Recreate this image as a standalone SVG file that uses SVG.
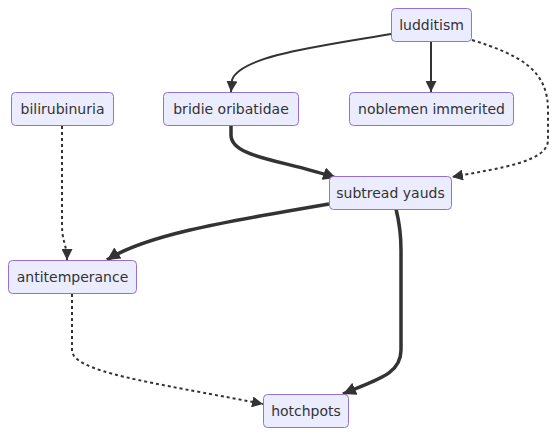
<svg xmlns="http://www.w3.org/2000/svg" width="557" height="436" viewBox="0 0 557 436">
<style>
.node rect{fill:#ECECFF;stroke:#9370DB;stroke-width:1}
.node text{font-family:"DejaVu Sans",Verdana,sans-serif;font-size:14px;fill:#333;text-anchor:middle}
.e{fill:none;stroke:#333}
.n{stroke-width:2}
.t{stroke-width:3.5}
.d{stroke-width:2;stroke-dasharray:3 3}
</style>
<defs>
<marker id="a" markerUnits="userSpaceOnUse" viewBox="0 0 10 10" refX="10" refY="5" markerWidth="11" markerHeight="11" orient="auto">
<path d="M0,0 L10,5 L0,10 z" fill="#333"/>
</marker>
<marker id="b" markerUnits="userSpaceOnUse" viewBox="0 0 10 10" refX="10" refY="5" markerWidth="13" markerHeight="13" orient="auto">
<path d="M0,0 L10,5 L0,10 z" fill="#333"/>
</marker>
</defs>
<rect width="557" height="436" fill="#fff"/>
<g id="edges">
<path class="e n" d="M391,34 C320,46 240,56 232,80 L231,92" marker-end="url(#a)"/>
<path class="e n" d="M431,42 L431,92" marker-end="url(#a)"/>
<path class="e d" d="M472,40 C520,55 548,70 548,110 L548,140 C548,162 500,168 452,177" marker-end="url(#a)"/>
<path class="e t" d="M231,125 L231,135 C231,158 285,160 336,178" marker-end="url(#b)"/>
<path class="e d" d="M62,126 L62,225 C62,242 67,245 67,260" marker-end="url(#a)"/>
<path class="e t" d="M329,204 C250,218 150,232 107,260" marker-end="url(#b)"/>
<path class="e t" d="M396,209 C400,225 401,235 401,250 L401,350 C401,375 375,380 343,394" marker-end="url(#b)"/>
<path class="e d" d="M72,294 L72,350 C72,372 150,382 263,404" marker-end="url(#a)"/>
</g>
<g id="ludditism" class="node"><rect x="391.5" y="8.5" width="80" height="33" rx="4"/><text x="431.5" y="30">ludditism</text></g>
<g id="bilirubinuria" class="node"><rect x="11.5" y="92.5" width="102" height="33" rx="4"/><text x="62.5" y="114">bilirubinuria</text></g>
<g id="bridie_oribatidae" class="node"><rect x="163.5" y="92.5" width="135" height="33" rx="4"/><text x="231" y="114">bridie oribatidae</text></g>
<g id="noblemen_immerited" class="node"><rect x="349.5" y="92.5" width="164" height="33" rx="4"/><text x="431.5" y="114">noblemen immerited</text></g>
<g id="subtread_yauds" class="node"><rect x="329.5" y="176.5" width="122" height="33" rx="4"/><text x="390.5" y="198">subtread yauds</text></g>
<g id="antitemperance" class="node"><rect x="8.5" y="260.5" width="128" height="33" rx="4"/><text x="72.5" y="282">antitemperance</text></g>
<g id="hotchpots" class="node"><rect x="263.5" y="394.5" width="85" height="33" rx="4"/><text x="306" y="416">hotchpots</text></g>
</svg>
